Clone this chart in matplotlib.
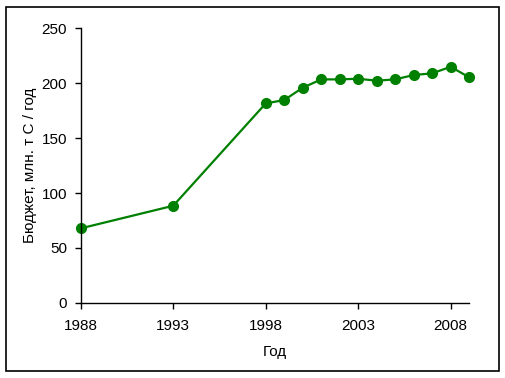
import matplotlib
matplotlib.use("Agg")
import matplotlib.pyplot as plt
from matplotlib.patches import Rectangle

plt.rcParams['font.family'] = ['Liberation Sans', 'DejaVu Sans']

# data
years = [1988, 1993, 1998, 1999, 2000, 2001, 2002, 2003, 2004, 2005, 2006, 2007, 2008, 2009]
budget = [67.8, 88.4, 181.6, 184.7, 195.9, 203.5, 203.5, 204.1, 202.3, 203.5, 207.5, 209.0, 215.0, 205.4]
xticks = [1988, 1993, 1998, 2003, 2008]
yticks = [0, 50, 100, 150, 200, 250]

fig = plt.figure(figsize=(5.05, 3.78), dpi=100)
ax = fig.add_axes([0.160, 0.199, 0.769, 0.726])

ax.plot(years, budget, color='#008000', lw=1.6, marker='o', ms=7,
        markerfacecolor='#008000', markeredgecolor='#008000', clip_on=False)

ax.set_xlim(1988, 2009)
ax.set_ylim(0, 250)
ax.set_xticks(xticks)
ax.set_yticks(yticks)
ax.spines['top'].set_visible(False)
ax.spines['right'].set_visible(False)
for s in ['left', 'bottom']:
    ax.spines[s].set_linewidth(1.0)
ax.tick_params(direction='out', length=4, width=1.0, labelsize=11)
ax.tick_params(axis='x', pad=8)
ax.tick_params(axis='y', pad=6)

ax.set_xlabel('Год', fontsize=11, labelpad=8)
ax.set_ylabel('Бюджет, млн. т С / год', fontsize=11, labelpad=3)

# outer chart frame
fig.patches.append(Rectangle((6 / 505, 7 / 378), 493 / 505, 364 / 378,
                             transform=fig.transFigure, fill=False,
                             edgecolor='black', lw=1.2))

fig.savefig('out.png', dpi=100)
